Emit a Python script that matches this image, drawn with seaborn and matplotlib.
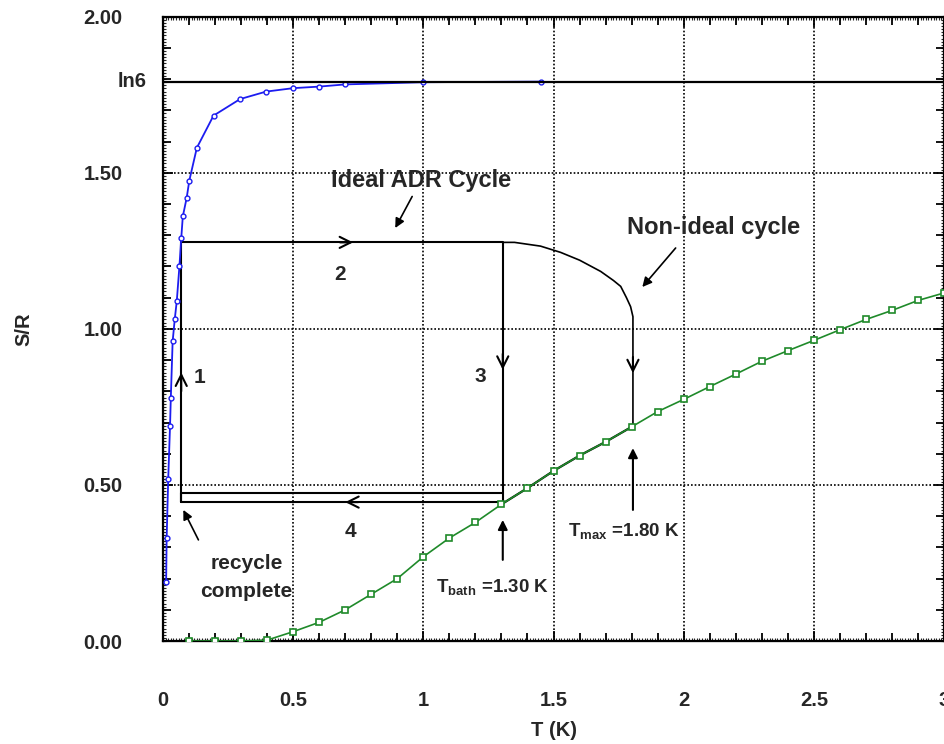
import numpy as np
import pandas as pd
import matplotlib
matplotlib.use("Agg")
import matplotlib.pyplot as plt
import matplotlib.transforms as mtransforms
from matplotlib.ticker import MultipleLocator, NullFormatter
import seaborn as sns

# ---------------- data ----------------
# paramagnetic salt entropy (blue)
para_T = [0.012, 0.014, 0.020, 0.027, 0.030, 0.037, 0.045, 0.053, 0.063, 0.070,
          0.076, 0.091, 0.101, 0.130, 0.194, 0.296, 0.396, 0.50, 0.60, 0.70,
          1.00, 1.45]
para_S = [0.19, 0.33, 0.52, 0.69, 0.78, 0.96, 1.03, 1.09, 1.20, 1.29,
          1.36, 1.42, 1.475, 1.58, 1.683, 1.736, 1.760, 1.771, 1.776, 1.783,
          1.790, 1.792]
# lattice / bath entropy (green)
latt_T = [0.1, 0.2, 0.3, 0.4, 0.5, 0.6, 0.7, 0.8, 0.9, 1.0,
          1.1, 1.2, 1.3, 1.4, 1.5, 1.6, 1.7, 1.8, 1.9, 2.0,
          2.1, 2.2, 2.3, 2.4, 2.5, 2.6, 2.7, 2.8, 2.9, 3.0]
latt_S = [0.0, 0.0, 0.0, 0.003, 0.03, 0.06, 0.10, 0.15, 0.20, 0.27,
          0.33, 0.38, 0.438, 0.49, 0.545, 0.594, 0.638, 0.686, 0.735, 0.774,
          0.815, 0.855, 0.896, 0.93, 0.963, 0.997, 1.03, 1.059, 1.091, 1.115]
# ideal ADR cycle path
cycle_T = [0.07, 0.07, 1.305, 1.305]
cycle_S = [0.445, 1.277, 1.277, 0.438]
return_T = [1.305, 0.07]
return_S_low = [0.445, 0.445]
return_S_high = [0.475, 0.475]
# non-ideal cycle path
nonideal_T = [1.305, 1.35, 1.45, 1.527, 1.60, 1.681, 1.73, 1.758, 1.78, 1.796, 1.805, 1.805]
nonideal_S = [1.277, 1.277, 1.265, 1.245, 1.22, 1.184, 1.155, 1.136, 1.10, 1.071, 1.039, 0.686]

x_ticks = [0, 0.5, 1, 1.5, 2, 2.5, 3]
x_tick_labels = ["0", "0.5", "1", "1.5", "2", "2.5", "3"]
y_ticks = [0, 0.5, 1.0, 1.5, 2.0]
y_tick_labels = ["0.00", "0.50", "1.00", "1.50", "2.00"]
LN6 = np.log(6)

# ---------------- style ----------------
sns.set_style("ticks")
plt.rcParams["font.family"] = ["Liberation Sans", "DejaVu Sans"]
plt.rcParams["font.weight"] = "bold"
plt.rcParams["axes.labelweight"] = "bold"
plt.rcParams["mathtext.fontset"] = "custom"
plt.rcParams["mathtext.rm"] = "Liberation Sans:bold"
plt.rcParams["mathtext.bf"] = "Liberation Sans:bold"

fig = plt.figure(figsize=(9.45, 7.44), dpi=100)
ax = fig.add_axes([0.1725, 0.1384, 0.8265, 0.8392])

BLUE = "#1c1cf0"
GREEN = "#1f8a2a"

df_para = pd.DataFrame({"T": para_T, "S": para_S})
df_latt = pd.DataFrame({"T": latt_T, "S": latt_S})

sns.lineplot(data=df_para, x="T", y="S", ax=ax, color=BLUE, lw=1.3,
             marker="o", markersize=3.5, markerfacecolor="white",
             markeredgecolor=BLUE, markeredgewidth=1.0, estimator=None, zorder=4)
sns.lineplot(data=df_latt, x="T", y="S", ax=ax, color=GREEN, lw=1.2,
             marker="s", markersize=4, markerfacecolor="white",
             markeredgecolor=GREEN, markeredgewidth=1.2, estimator=None, zorder=4)

# ln6 line
ax.axhline(LN6, color="black", lw=1.6, zorder=5)

# ideal cycle
ax.plot(cycle_T, cycle_S, color="black", lw=1.5, zorder=3)
ax.plot(return_T, return_S_low, color="black", lw=1.5, zorder=3)
ax.plot(return_T, return_S_high, color="black", lw=1.5, zorder=3)
ax.plot([cycle_T[0], cycle_T[0]], [return_S_low[0], return_S_high[0]], color="black", lw=1.5, zorder=3)
# non-ideal cycle
ax.plot(nonideal_T, nonideal_S, color="black", lw=1.2, zorder=3)
seg = df_latt[(df_latt["T"] >= 1.3) & (df_latt["T"] <= 1.8)]
ax.plot(seg["T"], seg["S"], color="black", lw=1.6, zorder=3)

def direction_arrow(x0, y0, x1, y1):
    ax.annotate("", xy=(x1, y1), xytext=(x0, y0),
                arrowprops=dict(arrowstyle="->", lw=1.5, color="black",
                                mutation_scale=20, shrinkA=0, shrinkB=0), zorder=6)

direction_arrow(0.07, 0.80, 0.07, 0.86)      # 1
direction_arrow(0.68, 1.277, 0.73, 1.277)    # 2
direction_arrow(1.305, 0.92, 1.305, 0.869)   # 3
direction_arrow(0.75, 0.445, 0.70, 0.445)    # 4
direction_arrow(1.805, 0.91, 1.805, 0.858)   # non-ideal

def pointer(x0, y0, x1, y1, lw=1.2):
    ax.annotate("", xy=(x1, y1), xytext=(x0, y0),
                arrowprops=dict(arrowstyle="-|>", lw=lw, color="black",
                                mutation_scale=14, shrinkA=0, shrinkB=0), zorder=6)

pointer(0.957, 1.424, 0.892, 1.323)
pointer(1.969, 1.259, 1.841, 1.134)
pointer(0.136, 0.324, 0.078, 0.42)
pointer(1.305, 0.26, 1.305, 0.388, lw=1.5)
pointer(1.805, 0.42, 1.805, 0.618, lw=1.5)

fs = 15
ax.text(0.993, 1.474, "Ideal ADR Cycle", fontsize=17, ha="center", va="center", zorder=7)
ax.text(2.115, 1.325, "Non-ideal cycle", fontsize=17, ha="center", va="center", zorder=7)
ax.text(0.142, 0.843, "1", fontsize=fs, ha="center", va="center")
ax.text(0.681, 1.173, "2", fontsize=fs, ha="center", va="center")
ax.text(1.219, 0.846, "3", fontsize=fs, ha="center", va="center")
ax.text(0.719, 0.350, "4", fontsize=fs, ha="center", va="center")
ax.text(0.32, 0.205, "recycle\ncomplete", fontsize=fs, ha="center", va="center",
        linespacing=1.6)
ax.text(1.265, 0.17, r"T$_{\mathregular{bath}}$ =1.30 K", fontsize=13.5, ha="center", va="center", zorder=7)
ax.text(1.77, 0.35, r"T$_{\mathregular{max}}$ =1.80 K", fontsize=13.5, ha="center", va="center", zorder=7)

# ---------------- axes ----------------
ax.set_xlim(0, 3)
ax.set_ylim(0, 2)
ax.set_xticks(x_ticks, x_tick_labels)
ax.set_yticks(y_ticks, y_tick_labels)
ax.xaxis.set_minor_locator(MultipleLocator(0.1))
ax.yaxis.set_minor_locator(MultipleLocator(0.1))
ax.tick_params(which="both", direction="in", top=True, right=True, width=1.3, color="black")
ax.tick_params(which="major", length=7)
ax.tick_params(which="minor", length=6)
ax.tick_params(axis="x", which="major", pad=36, labelsize=14.5)
ax.tick_params(axis="y", which="major", pad=29, labelsize=14.5)
for s in ax.spines.values():
    s.set_linewidth(1.6)
    s.set_color("black")
ax.grid(True, which="major", color="black", linestyle=(0, (1, 1.2)), linewidth=1.2)

for side in ["bottom", "top"]:
    sec = ax.secondary_xaxis(side)
    sec.xaxis.set_major_locator(MultipleLocator(0.01))
    sec.xaxis.set_major_formatter(NullFormatter())
    sec.tick_params(direction="in", length=2, width=0.8)
for side in ["left", "right"]:
    sec = ax.secondary_yaxis(side)
    sec.yaxis.set_major_locator(MultipleLocator(0.01))
    sec.yaxis.set_major_formatter(NullFormatter())
    sec.tick_params(direction="in", length=2, width=0.8)

trans = mtransforms.blended_transform_factory(ax.transAxes, ax.transData)
ax.text(-0.021, LN6, "ln6", transform=trans, ha="right", va="center", fontsize=14.5)

ax.set_xlabel("T (K)", fontsize=14.5, labelpad=8)
ax.set_ylabel("S/R", fontsize=14.5, labelpad=36)

fig.savefig("out.png", dpi=100)
